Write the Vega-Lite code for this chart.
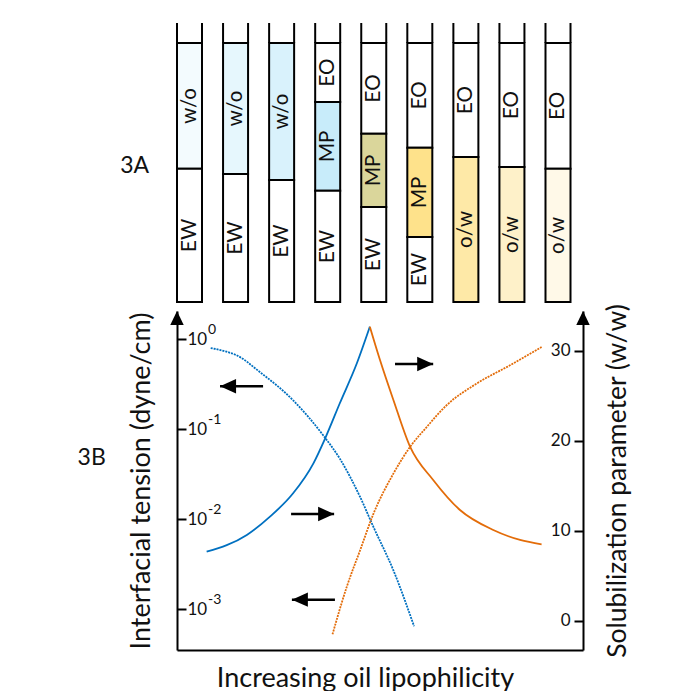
{
  "$schema": "https://vega.github.io/schema/vega-lite/v6.json",
  "background": "white",
  "padding": {"left": 77, "top": 22, "right": 10, "bottom": 0},
  "bounds": "flush",
  "spacing": 9,
  "config": {
    "view": {"stroke": null},
    "axis": {"grid": false},
    "font": "Lato",
    "text": {"font": "Lato"},
    "title": {"font": "Lato"}
  },
  "datasets": {
    "phases": [
      {"tube": 1, "label": "w/o", "id": "1 w/o", "lower": 0.514, "upper": 1},
      {"tube": 1, "label": "EW", "id": "1 EW", "lower": 0, "upper": 0.514},
      {"tube": 2, "label": "w/o", "id": "2 w/o", "lower": 0.494, "upper": 1},
      {"tube": 2, "label": "EW", "id": "2 EW", "lower": 0, "upper": 0.494},
      {"tube": 3, "label": "w/o", "id": "3 w/o", "lower": 0.471, "upper": 1},
      {"tube": 3, "label": "EW", "id": "3 EW", "lower": 0, "upper": 0.471},
      {"tube": 4, "label": "EO", "id": "4 EO", "lower": 0.772, "upper": 1},
      {"tube": 4, "label": "MP", "id": "4 MP", "lower": 0.429, "upper": 0.772},
      {"tube": 4, "label": "EW", "id": "4 EW", "lower": 0, "upper": 0.429},
      {"tube": 5, "label": "EO", "id": "5 EO", "lower": 0.649, "upper": 1},
      {"tube": 5, "label": "MP", "id": "5 MP", "lower": 0.367, "upper": 0.649},
      {"tube": 5, "label": "EW", "id": "5 EW", "lower": 0, "upper": 0.367},
      {"tube": 6, "label": "EO", "id": "6 EO", "lower": 0.595, "upper": 1},
      {"tube": 6, "label": "MP", "id": "6 MP", "lower": 0.251, "upper": 0.595},
      {"tube": 6, "label": "EW", "id": "6 EW", "lower": 0, "upper": 0.251},
      {"tube": 7, "label": "EO", "id": "7 EO", "lower": 0.56, "upper": 1},
      {"tube": 7, "label": "o/w", "id": "7 o/w", "lower": 0, "upper": 0.56},
      {"tube": 8, "label": "EO", "id": "8 EO", "lower": 0.521, "upper": 1},
      {"tube": 8, "label": "o/w", "id": "8 o/w", "lower": 0, "upper": 0.521},
      {"tube": 9, "label": "EO", "id": "9 EO", "lower": 0.514, "upper": 1},
      {"tube": 9, "label": "o/w", "id": "9 o/w", "lower": 0, "upper": 0.514}
    ],
    "tension": [
      {"curve": "tension-w", "lipophilicity": 8.3, "tension": 0.8},
      {"curve": "tension-w", "lipophilicity": 12.2, "tension": 0.728},
      {"curve": "tension-w", "lipophilicity": 14.7, "tension": 0.664},
      {"curve": "tension-w", "lipophilicity": 20.4, "tension": 0.433},
      {"curve": "tension-w", "lipophilicity": 28.6, "tension": 0.21},
      {"curve": "tension-w", "lipophilicity": 36.0, "tension": 0.0858},
      {"curve": "tension-w", "lipophilicity": 40.1, "tension": 0.0472},
      {"curve": "tension-w", "lipophilicity": 45.1, "tension": 0.0177},
      {"curve": "tension-w", "lipophilicity": 48.4, "tension": 0.0082},
      {"curve": "tension-w", "lipophilicity": 53.3, "tension": 0.00271},
      {"curve": "tension-w", "lipophilicity": 58.4, "tension": 0.000647},
      {"curve": "tension-o", "lipophilicity": 38.3, "tension": 0.000527},
      {"curve": "tension-o", "lipophilicity": 41.8, "tension": 0.00177},
      {"curve": "tension-o", "lipophilicity": 45.1, "tension": 0.00453},
      {"curve": "tension-o", "lipophilicity": 48.4, "tension": 0.01156},
      {"curve": "tension-o", "lipophilicity": 53.3, "tension": 0.0322},
      {"curve": "tension-o", "lipophilicity": 57.4, "tension": 0.0636},
      {"curve": "tension-o", "lipophilicity": 61.5, "tension": 0.106},
      {"curve": "tension-o", "lipophilicity": 66.4, "tension": 0.185},
      {"curve": "tension-o", "lipophilicity": 73.8, "tension": 0.322},
      {"curve": "tension-o", "lipophilicity": 82.0, "tension": 0.514},
      {"curve": "tension-o", "lipophilicity": 89.8, "tension": 0.821}
    ],
    "solubilization": [
      {"curve": "solub-w", "lipophilicity": 7.3, "solubilization": 7.7},
      {"curve": "solub-w", "lipophilicity": 17.2, "solubilization": 9.56},
      {"curve": "solub-w", "lipophilicity": 22.9, "solubilization": 11.59},
      {"curve": "solub-w", "lipophilicity": 28.6, "solubilization": 14.19},
      {"curve": "solub-w", "lipophilicity": 33.6, "solubilization": 17.52},
      {"curve": "solub-w", "lipophilicity": 36.5, "solubilization": 20.3},
      {"curve": "solub-w", "lipophilicity": 40.1, "solubilization": 24.19},
      {"curve": "solub-w", "lipophilicity": 44.3, "solubilization": 28.63},
      {"curve": "solub-w", "lipophilicity": 47.5, "solubilization": 32.7},
      {"curve": "solub-o", "lipophilicity": 47.5, "solubilization": 32.7},
      {"curve": "solub-o", "lipophilicity": 50.0, "solubilization": 29.0},
      {"curve": "solub-o", "lipophilicity": 53.3, "solubilization": 24.56},
      {"curve": "solub-o", "lipophilicity": 57.4, "solubilization": 19.37},
      {"curve": "solub-o", "lipophilicity": 63.1, "solubilization": 15.67},
      {"curve": "solub-o", "lipophilicity": 69.7, "solubilization": 12.33},
      {"curve": "solub-o", "lipophilicity": 77.9, "solubilization": 10.11},
      {"curve": "solub-o", "lipophilicity": 84.5, "solubilization": 9.0},
      {"curve": "solub-o", "lipophilicity": 89.8, "solubilization": 8.52}
    ],
    "tensionArrows": [
      {"tail": 21.2, "tip": 10.6, "tension": 0.3006},
      {"tail": 38.9, "tip": 28.3, "tension": 0.00128}
    ],
    "solubilizationArrows": [
      {"tail": 53.7, "tip": 63.1, "solubilization": 28.56},
      {"tail": 28.1, "tip": 38.7, "solubilization": 11.89}
    ],
    "exponents": [
      {"tension": 1, "exponent": "0"},
      {"tension": 0.1, "exponent": "-1"},
      {"tension": 0.01, "exponent": "-2"},
      {"tension": 0.001, "exponent": "-3"}
    ],
    "axisTips": [
      {"side": "left", "lipophilicity": 0},
      {"side": "right", "lipophilicity": 100}
    ]
  },
  "vconcat": [
    {
      "width": 393.5,
      "height": 279,
      "title": {"text": "3A", "orient": "left", "anchor": "middle", "angle": 0, "align": "right", "baseline": "middle", "offset": -2, "dy": 3, "fontSize": 23, "fontWeight": "normal", "color": "#111"},
      "data": {"name": "phases"},
      "encoding": {
        "x": {"field": "tube", "type": "ordinal", "scale": {"paddingInner": 0.4572, "paddingOuter": 0}, "axis": null}
      },
      "layer": [
        {
          "mark": {"type": "bar", "stroke": "black", "strokeWidth": 2},
          "encoding": {
            "y": {"field": "lower", "type": "quantitative", "scale": {"domain": [0, 1.077], "nice": false, "zero": false}, "axis": null},
            "y2": {"field": "upper"},
            "fill": {
              "field": "id", "type": "nominal", "legend": null,
              "scale": {
                "domain": ["1 w/o", "1 EW", "2 w/o", "2 EW", "3 w/o", "3 EW", "4 EO", "4 MP", "4 EW", "5 EO", "5 MP", "5 EW", "6 EO", "6 MP", "6 EW", "7 EO", "7 o/w", "8 EO", "8 o/w", "9 EO", "9 o/w"],
                "range": ["#f3fbfe", "#ffffff", "#e6f7fd", "#ffffff", "#d9f2fc", "#ffffff", "#ffffff", "#c8ecfa", "#ffffff", "#ffffff", "#dad69b", "#ffffff", "#ffffff", "#fee28b", "#ffffff", "#ffffff", "#fee9a7", "#ffffff", "#fef1c9", "#ffffff", "#fff9e8"]
              }
            }
          }
        },
        {
          "transform": [{"filter": "datum.upper == 1"}],
          "mark": {"type": "rule", "strokeWidth": 2, "color": "black"},
          "encoding": {
            "x": {"field": "tube", "type": "ordinal", "bandPosition": 0},
            "y": {"field": "upper", "type": "quantitative", "scale": {"domain": [0, 1.077], "nice": false, "zero": false}},
            "y2": {"datum": 1.077}
          }
        },
        {
          "transform": [{"filter": "datum.upper == 1"}],
          "mark": {"type": "rule", "strokeWidth": 2, "color": "black"},
          "encoding": {
            "x": {"field": "tube", "type": "ordinal", "bandPosition": 1},
            "y": {"field": "upper", "type": "quantitative", "scale": {"domain": [0, 1.077], "nice": false, "zero": false}},
            "y2": {"datum": 1.077}
          }
        },
        {
          "transform": [{"fold": ["lower", "upper"], "as": ["end", "level"]}],
          "mark": {"type": "text", "angle": 270, "fontSize": 20.5, "baseline": "middle", "align": "center", "color": "#111"},
          "encoding": {
            "y": {"aggregate": "mean", "field": "level", "type": "quantitative", "scale": {"domain": [0, 1.077], "nice": false, "zero": false}},
            "text": {"field": "label", "type": "nominal"}
          }
        }
      ]
    },
    {
      "width": 406,
      "height": 339,
      "title": {"text": "3B", "orient": "left", "anchor": "middle", "angle": 0, "align": "right", "baseline": "middle", "offset": -7, "dy": -23, "fontSize": 23, "fontWeight": "normal", "color": "#111"},
      "layer": [
        {
          "layer": [
            {
              "data": {"name": "tension"},
              "mark": {"type": "line", "interpolate": "monotone", "strokeWidth": 1.8, "strokeDash": [2, 1]},
              "encoding": {
                "x": {
                  "field": "lipophilicity", "type": "quantitative",
                  "scale": {"domain": [0, 100], "nice": false, "zero": false},
                  "axis": {"orient": "bottom", "domain": true, "ticks": false, "labels": false, "grid": false, "domainColor": "black", "domainWidth": 2, "title": "Increasing oil lipophilicity", "titleFont": "Lato", "titleFontSize": 27, "titleFontWeight": "normal", "titleBaseline": "alphabetic", "titlePadding": 36, "titleX": 188, "titleAlign": "center", "titleColor": "#111"}
                },
                "y": {
                  "field": "tension", "type": "quantitative",
                  "scale": {"type": "log", "domain": [0.000353, 2.063], "nice": false},
                  "axis": {"orient": "left", "values": [0.001, 0.01, 0.1, 1], "labelExpr": "'10'", "tickSize": -9, "tickWidth": 2, "tickColor": "black", "labelAlign": "left", "labelBaseline": "middle", "labelPadding": -1, "labelFont": "Lato", "labelFontSize": 17, "labelColor": "#111", "labelFlush": false, "labelOverlap": false, "domainColor": "black", "domainWidth": 2, "title": "Interfacial tension (dyne/cm)", "titleFont": "Lato", "titleFontSize": 27, "titleFontWeight": "normal", "titlePadding": 21, "titleColor": "#111"}
                },
                "color": {"field": "curve", "type": "nominal", "legend": null, "scale": {"domain": ["tension-w", "tension-o", "solub-w", "solub-o"], "range": ["#0070c0", "#e36c09", "#0070c0", "#e36c09"]}}
              }
            },
            {
              "data": {"name": "tensionArrows"},
              "mark": {"type": "rule", "strokeWidth": 2.5, "color": "black"},
              "encoding": {
                "x": {"field": "tail", "type": "quantitative", "scale": {"domain": [0, 100], "nice": false, "zero": false}},
                "x2": {"field": "tip"},
                "y": {"field": "tension", "type": "quantitative", "scale": {"type": "log", "domain": [0.000353, 2.063], "nice": false}}
              }
            },
            {
              "data": {"name": "tensionArrows"},
              "mark": {"type": "point", "shape": "M0,0L1,-0.45L1,0.45Z", "filled": true, "size": 1024, "color": "black", "opacity": 1, "strokeWidth": 0},
              "encoding": {
                "x": {"field": "tip", "type": "quantitative", "scale": {"domain": [0, 100], "nice": false, "zero": false}},
                "y": {"field": "tension", "type": "quantitative", "scale": {"type": "log", "domain": [0.000353, 2.063], "nice": false}}
              }
            },
            {
              "data": {"name": "exponents"},
              "mark": {"type": "text", "align": "left", "baseline": "middle", "dx": 31, "dy": -9, "fontSize": 14, "color": "#111"},
              "encoding": {
                "x": {"datum": 0, "type": "quantitative", "scale": {"domain": [0, 100], "nice": false, "zero": false}},
                "y": {"field": "tension", "type": "quantitative", "scale": {"type": "log", "domain": [0.000353, 2.063], "nice": false}},
                "text": {"field": "exponent", "type": "nominal"}
              }
            },
            {
              "data": {"name": "axisTips"},
              "transform": [{"filter": "datum.side == 'left'"}],
              "mark": {"type": "point", "shape": "M0,0L0.48,1L-0.48,1Z", "filled": true, "size": 784, "color": "black", "opacity": 1, "strokeWidth": 0},
              "encoding": {
                "x": {"field": "lipophilicity", "type": "quantitative", "scale": {"domain": [0, 100], "nice": false, "zero": false}},
                "y": {"datum": 2.063, "type": "quantitative", "scale": {"type": "log", "domain": [0.000353, 2.063], "nice": false}}
              }
            }
          ]
        },
        {
          "layer": [
            {
              "data": {"name": "solubilization"},
              "mark": {"type": "line", "interpolate": "monotone", "strokeWidth": 1.8},
              "encoding": {
                "x": {"field": "lipophilicity", "type": "quantitative", "scale": {"domain": [0, 100], "nice": false, "zero": false}},
                "y": {
                  "field": "solubilization", "type": "quantitative",
                  "scale": {"domain": [-3.222, 34.44], "nice": false, "zero": false},
                  "axis": {"orient": "right", "values": [0, 10, 20, 30], "tickSize": -9, "tickWidth": 2, "tickColor": "black", "labelAlign": "right", "labelBaseline": "middle", "labelPadding": -4, "labelFont": "Lato", "labelFontSize": 17, "labelColor": "#111", "labelFlush": false, "labelOverlap": false, "domainColor": "black", "domainWidth": 2, "title": "Solubilization parameter (w/w)", "titleFont": "Lato", "titleFontSize": 26.5, "titleFontWeight": "normal", "titleAngle": 270, "titleBaseline": "top", "titlePadding": 20, "titleColor": "#111"}
                },
                "color": {"field": "curve", "type": "nominal", "legend": null, "scale": {"domain": ["tension-w", "tension-o", "solub-w", "solub-o"], "range": ["#0070c0", "#e36c09", "#0070c0", "#e36c09"]}}
              }
            },
            {
              "data": {"name": "solubilizationArrows"},
              "mark": {"type": "rule", "strokeWidth": 2.5, "color": "black"},
              "encoding": {
                "x": {"field": "tail", "type": "quantitative", "scale": {"domain": [0, 100], "nice": false, "zero": false}},
                "x2": {"field": "tip"},
                "y": {"field": "solubilization", "type": "quantitative", "scale": {"domain": [-3.222, 34.44], "nice": false, "zero": false}}
              }
            },
            {
              "data": {"name": "solubilizationArrows"},
              "mark": {"type": "point", "shape": "M0,0L-1,-0.45L-1,0.45Z", "filled": true, "size": 1024, "color": "black", "opacity": 1, "strokeWidth": 0},
              "encoding": {
                "x": {"field": "tip", "type": "quantitative", "scale": {"domain": [0, 100], "nice": false, "zero": false}},
                "y": {"field": "solubilization", "type": "quantitative", "scale": {"domain": [-3.222, 34.44], "nice": false, "zero": false}}
              }
            },
            {
              "data": {"name": "axisTips"},
              "transform": [{"filter": "datum.side == 'right'"}],
              "mark": {"type": "point", "shape": "M0,0L0.48,1L-0.48,1Z", "filled": true, "size": 784, "color": "black", "opacity": 1, "strokeWidth": 0},
              "encoding": {
                "x": {"field": "lipophilicity", "type": "quantitative", "scale": {"domain": [0, 100], "nice": false, "zero": false}},
                "y": {"datum": 34.44, "type": "quantitative", "scale": {"domain": [-3.222, 34.44], "nice": false, "zero": false}}
              }
            }
          ]
        }
      ],
      "resolve": {"scale": {"y": "independent"}}
    }
  ]
}
